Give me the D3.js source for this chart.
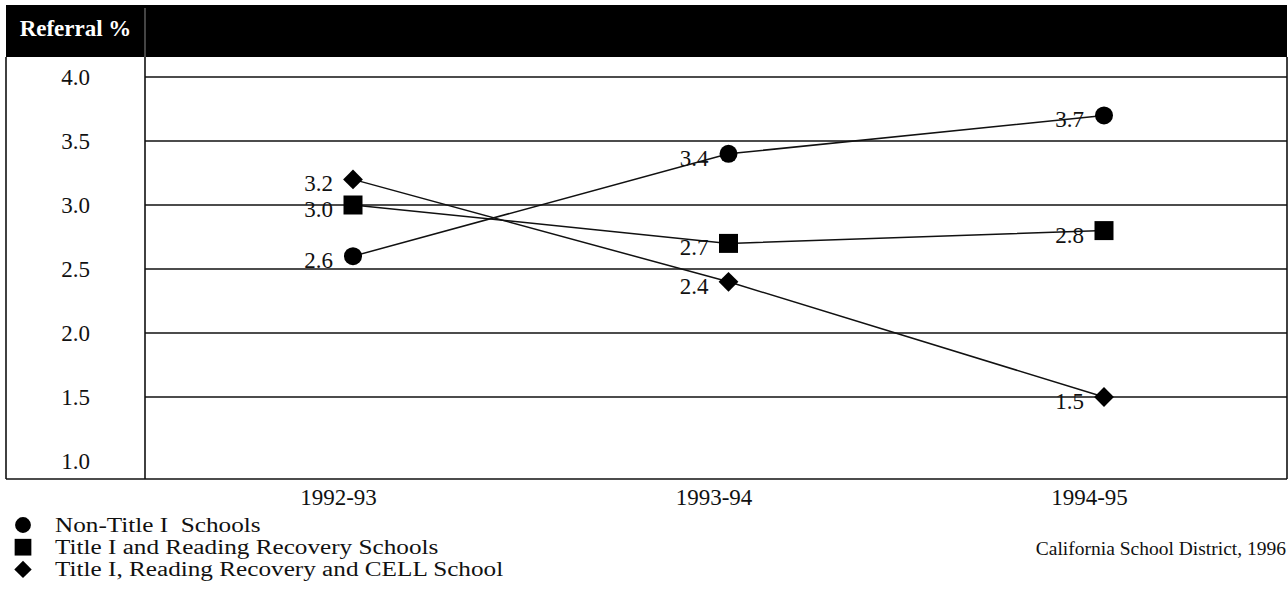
<!DOCTYPE html>
<html>
<head>
<meta charset="utf-8">
<script src="https://cdn.jsdelivr.net/npm/d3@7"></script>
<style>
  html, body { margin: 0; padding: 0; background: #fff; }
  svg { display: block; }
  text { font-family: "Liberation Serif", "DejaVu Serif", serif; fill: #111; }
</style>
</head>
<body>
<svg id="chart" width="1288" height="596"></svg>
<script>
// School years on the x axis
const years = ["1992-93", "1993-94", "1994-95"];

// Referral percentages per school group
const nonTitleI = [2.6, 3.4, 3.7];
const titleIRR = [3.0, 2.7, 2.8];
const titleIRRCell = [3.2, 2.4, 1.5];

// Y axis tick values
const yTicks = [1.0, 1.5, 2.0, 2.5, 3.0, 3.5, 4.0];
const gridTicks = [1.5, 2.0, 2.5, 3.0, 3.5, 4.0];

const seriesNames = [
  "Non-Title I  Schools",
  "Title I and Reading Recovery Schools",
  "Title I, Reading Recovery and CELL School"
];
const seriesShapes = ["circle", "square", "diamond"];

const series = [nonTitleI, titleIRR, titleIRRCell].map((vals, i) => ({
  name: seriesNames[i],
  shape: seriesShapes[i],
  values: vals.map((v, j) => ({ year: years[j], value: v }))
}));

const svg = d3.select("#chart");
const FONT = 23;

// frame geometry
const frameLeft = 6, frameRight = 1287, headTop = 5, headBottom = 57, frameBottom = 479, divider = 145;

const x = d3.scalePoint().domain(years).range([353, 1104]);
const y = d3.scaleLinear().domain([1, 4]).range([461, 77]);

// marker path generators, sized in px
function markerPath(shape, scale) {
  if (shape === "circle") return d3.symbol().type(d3.symbolCircle).size(Math.PI * Math.pow(9 * scale, 2))();
  if (shape === "square") return d3.symbol().type(d3.symbolSquare).size(Math.pow(19 * scale, 2))();
  return d3.symbol().type(d3.symbolSquare).size(Math.pow(14 * scale, 2))();
}
function markerTransform(shape, cx, cy) {
  return `translate(${cx},${cy})` + (shape === "diamond" ? " rotate(45)" : "");
}

// header band
svg.append("rect")
  .attr("x", frameLeft).attr("y", headTop)
  .attr("width", frameRight - frameLeft).attr("height", headBottom - headTop)
  .attr("fill", "#000");
svg.append("line")
  .attr("x1", divider).attr("x2", divider)
  .attr("y1", headTop + 3).attr("y2", headBottom)
  .attr("stroke", "#888").attr("stroke-width", 1);
svg.append("text")
  .attr("x", (frameLeft + divider) / 2).attr("y", 36)
  .attr("text-anchor", "middle")
  .style("fill", "#fff").style("font-weight", "bold").style("font-size", "23px")
  .text("Referral %");

// gridlines
svg.append("g").selectAll("line")
  .data(gridTicks).join("line")
  .attr("x1", divider).attr("x2", frameRight)
  .attr("y1", d => y(d)).attr("y2", d => y(d))
  .attr("stroke", "#111").attr("stroke-width", 1.6);

// frame lines
const frame = svg.append("g").attr("stroke", "#111").attr("stroke-width", 1.6).attr("fill", "none");
frame.append("line").attr("x1", frameLeft).attr("x2", frameLeft).attr("y1", headBottom).attr("y2", frameBottom);
frame.append("line").attr("x1", divider).attr("x2", divider).attr("y1", headBottom).attr("y2", frameBottom);
frame.append("line").attr("x1", frameRight).attr("x2", frameRight).attr("y1", headBottom).attr("y2", frameBottom);
frame.append("line").attr("x1", frameLeft).attr("x2", frameRight).attr("y1", frameBottom).attr("y2", frameBottom);

// y tick labels in the left column
svg.append("g").selectAll("text")
  .data(yTicks).join("text")
  .attr("x", (frameLeft + divider) / 2)
  .attr("y", d => y(d) + 8)
  .attr("text-anchor", "middle")
  .style("font-size", FONT + "px")
  .text(d => d.toFixed(1));

// x axis labels
const xAxis = d3.axisBottom(x).tickSize(0).tickPadding(0);
const xg = svg.append("g").attr("transform", `translate(-15,${frameBottom + 10})`).call(xAxis);
xg.select(".domain").remove();
xg.selectAll("text")
  .style("font-size", FONT + "px")
  .style("font-family", "Liberation Serif, serif")
  .attr("fill", "#111");

// series lines
const line = d3.line().x(d => x(d.year)).y(d => y(d.value));
svg.append("g").selectAll("path")
  .data(series).join("path")
  .attr("d", d => line(d.values))
  .attr("fill", "none").attr("stroke", "#111").attr("stroke-width", 1.5);

// value labels
const labelGroup = svg.append("g");
series.forEach(s => {
  labelGroup.selectAll(null)
    .data(s.values).join("text")
    .attr("x", d => x(d.year) - 20)
    .attr("y", d => y(d.value) + 12)
    .attr("text-anchor", "end")
    .style("font-size", FONT + "px")
    .text(d => d.value.toFixed(1));
});

// markers
series.forEach(s => {
  svg.append("g").selectAll("path")
    .data(s.values).join("path")
    .attr("fill", "#000")
    .attr("d", markerPath(s.shape, 1))
    .attr("transform", d => markerTransform(s.shape, x(d.year), y(d.value)));
});

// legend: rows of marker + name, text widened to the book-face proportions
const legend = svg.append("g");
const legendTexts = [];
series.forEach((s, i) => {
  const ly = 525 + i * 22.2;
  legend.append("path")
    .attr("fill", "#000")
    .attr("d", markerPath(s.shape, 0.88))
    .attr("transform", markerTransform(s.shape, 23, ly));
  legendTexts.push(legend.append("text")
    .attr("x", 55).attr("y", ly + 7)
    .attr("xml:space", "preserve")
    .style("white-space", "pre")
    .style("font-size", "20px")
    .text(s.name));
});
const widen = 1.26;
legendTexts.forEach(t => {
  const w = t.node().getComputedTextLength();
  t.attr("textLength", w * widen).attr("lengthAdjust", "spacingAndGlyphs");
});

// source note
svg.append("text")
  .attr("x", 1286).attr("y", 555)
  .attr("text-anchor", "end")
  .style("font-size", "19.5px")
  .text("California School District, 1996");
</script>
</body>
</html>
